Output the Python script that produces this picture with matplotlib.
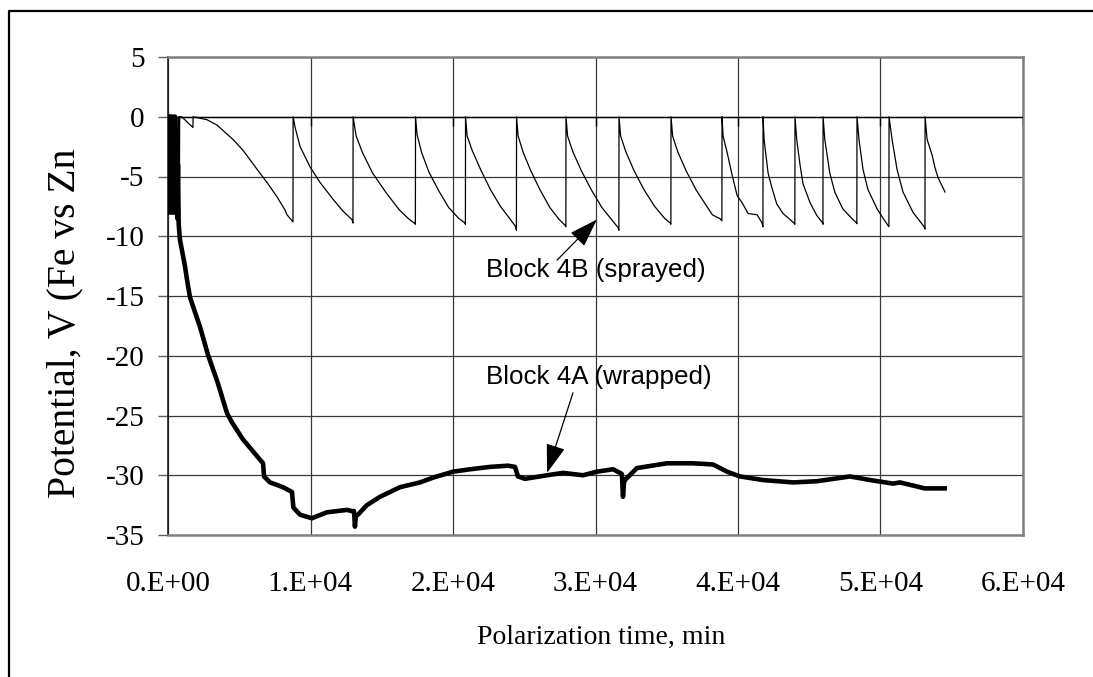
import matplotlib.pyplot as plt
from matplotlib.lines import Line2D

# Block 4A (wrapped) - polarization time (min) and potential (V)
t_4a = [0, 50, 100, 150, 200, 250, 300, 350, 400, 450, 500, 550, 600, 650, 700,
        750, 840, 1190, 1330, 1540, 2250, 2800, 3500, 4140, 4500, 5260, 6670, 6740,
        7160, 8070, 8700, 8800, 9260, 10100, 11150, 12560, 12900, 13050, 13120, 13180,
        13330, 13960, 14880, 16280, 17680, 18600, 20000, 21200, 22600, 23860, 24350,
        24560, 25050, 26600, 27720, 29120, 30100, 31230, 31720, 31850, 31930, 32000,
        32070, 32900, 35020, 36840, 38250, 39230, 40140, 41750, 43860, 45540, 47860,
        49260, 50880, 51370, 52420, 53100, 54500]
v_4a = [0, -8, 0, -8, 0, -8, 0, -8, 0, -8, 0, -8, -1, -8.5, -4,
        -9.0, -10.3, -12.5, -13.6, -15.1, -17.6, -19.9, -22.3, -24.8, -25.6, -27.0, -29.0, -30.1,
        -30.6, -31.0, -31.4, -32.7, -33.3, -33.6, -33.1, -32.9, -33.0, -33.0, -34.3, -33.4,
        -33.3, -32.5, -31.8, -31.0, -30.6, -30.2, -29.7, -29.5, -29.3, -29.2, -29.3,
        -30.1, -30.3, -30.0, -29.8, -30.0, -29.7, -29.5, -29.8, -29.9, -31.8, -30.6,
        -30.4, -29.4, -29.0, -29.0, -29.1, -29.7, -30.1, -30.4, -30.6, -30.5, -30.1,
        -30.4, -30.7, -30.6, -30.9, -31.1, -31.1]

# Block 4B (sprayed) - one row per charge/discharge cycle
t_4b = [0, 20, 40, 80, 120, 160, 200, 300, 400, 500, 600, 700, 770, 790, 820,
        960, 1750, 1760, 2740, 3440, 4560, 5260, 6250, 6950, 7650, 8210, 8350, 8770,
        8780, 8920, 9270, 9970, 10670, 11580, 12280, 12910, 12980,
        12990, 13200, 13650, 14350, 15330, 16240, 16940, 17300, 17360,
        17370, 17480, 17800, 18300, 19000, 19700, 20400, 20850, 20870,
        20880, 20990, 21340, 21930, 22630, 23330, 24030, 24400, 24450,
        24460, 24570, 24900, 25450, 26100, 26800, 27450, 27880, 27920,
        27930, 28040, 28400, 29000, 29700, 30450, 31200, 31600, 31640,
        31650, 31760, 32120, 32700, 33400, 34150, 34850, 35250, 35290,
        35300, 35410, 35760, 36350, 37050, 37700, 38200, 38500, 38700, 38870,
        38880, 38950, 39240, 39590, 39940, 40290, 40710, 41340, 41690, 41750,
        41760, 41830, 42110, 42370, 42720, 43160, 43650, 43930, 43990,
        44000, 44120, 44350, 44560, 45060, 45550, 45950, 45960,
        45970, 46090, 46440, 46790, 47350, 47980, 48330, 48340,
        48350, 48490, 48770, 49120, 49760, 50180, 50530, 50590,
        50600, 50810, 51160, 51580, 52280, 53060, 53120,
        53130, 53270, 53620, 53830, 54040, 54530]
v_4b = [0, -5.8, 0, -3.0, 0, -7.0, 0, -6.0, 0, -8.0, 0, -5.0, 0, -8.4, 0,
        0, -0.9, 0, -0.25, -0.7, -1.9, -2.8, -4.4, -5.5, -6.7, -7.8, -8.2, -8.8,
        0, -0.9, -2.5, -4.2, -5.5, -6.9, -7.9, -8.6, -8.9,
        0, -1.6, -3.0, -4.7, -6.4, -7.8, -8.6, -8.9, -9.0,
        0, -1.5, -3.0, -4.6, -6.2, -7.6, -8.5, -8.9, -9.0,
        0, -1.6, -2.8, -4.4, -6.1, -7.5, -8.6, -9.2, -9.5,
        0, -1.6, -2.9, -4.5, -6.1, -7.6, -8.6, -9.1, -9.2,
        0, -1.6, -2.9, -4.5, -6.1, -7.6, -8.7, -9.3, -9.5,
        0, -1.6, -2.9, -4.5, -6.1, -7.5, -8.5, -8.9, -9.0,
        0, -1.6, -2.9, -4.5, -6.1, -7.3, -8.2, -8.4, -8.5, -8.7,
        0, -1.6, -3.0, -4.9, -6.6, -7.2, -8.1, -8.2, -8.9, -9.2,
        0, -1.9, -4.7, -5.9, -7.3, -8.1, -8.6, -8.9, -9.0,
        0, -1.9, -4.0, -5.6, -7.2, -8.3, -8.9, -9.0,
        0, -1.9, -4.7, -6.3, -7.7, -8.5, -8.9, -8.95,
        0, -1.9, -4.4, -6.1, -7.7, -8.5, -9.1, -9.2,
        0, -1.9, -4.4, -6.3, -8.0, -9.2, -9.4,
        0, -1.9, -3.2, -4.3, -5.1, -6.3]

x_ticks = [0, 1e4, 2e4, 3e4, 4e4, 5e4, 6e4]
x_labels = ["0.E+00", "1.E+04", "2.E+04", "3.E+04", "4.E+04", "5.E+04", "6.E+04"]
y_ticks = [5, 0, -5, -10, -15, -20, -25, -30, -35]
y_labels = ["5", "0", "-5", "-10", "-15", "-20", "-25", "-30", "-35"]

W, H = 1093, 677
serif = "Liberation Serif"
sans = "Liberation Sans"

fig = plt.figure(figsize=(W / 100, H / 100), dpi=100)
ax = fig.add_axes([168 / W, 1 - 535 / H, (1023 - 168) / W, (535 - 57) / H])

ax.plot(t_4b, v_4b, color="black", lw=0.9, zorder=4)
ax.plot(t_4a, v_4a, color="black", lw=3.3, zorder=5)

ax.set_xlim(0, 6e4)
ax.set_ylim(-35, 5)
ax.set_xticks(x_ticks)
ax.set_xticklabels(x_labels, fontsize=21, family=serif)
ax.set_yticks(y_ticks)
ax.set_yticklabels(y_labels, fontsize=21, family=serif)
ax.grid(True, color="#383838", lw=0.9, zorder=1)
ax.set_axisbelow(True)
ax.tick_params(axis="x", length=0, pad=26)
ax.tick_params(axis="y", length=7, width=1, color="#606060", direction="out", pad=10)

for s in ax.spines.values():
    s.set_color("#808080")
    s.set_linewidth(1.8)
ax.spines["left"].set_color("#202020")
ax.spines["left"].set_linewidth(1.2)

# x axis crosses at y = 0, with its tick marks hanging below
ax.axhline(0, color="black", lw=1, zorder=3)
ax.vlines(x_ticks, -0.8, 0, color="black", lw=1, zorder=3)

# annotations
arrow = dict(arrowstyle="-|>,head_length=0.9,head_width=0.3", color="black",
             lw=0.9, shrinkA=0, shrinkB=0, mutation_scale=20)
ax.text(22320, -12.85, "Block 4B (sprayed)", family=sans, fontsize=18.7, va="center", ha="left")
ax.annotate("", xy=(30100, -8.6), xytext=(27300, -12.0), arrowprops=arrow)
ax.text(22320, -21.8, "Block 4A (wrapped)", family=sans, fontsize=18.7, va="center", ha="left")
ax.annotate("", xy=(26600, -29.8), xytext=(28420, -23.1), arrowprops=arrow)

fig.text(65 / W, 1 - 498 / H, "Potential, V (Fe vs Zn", rotation=90, ha="center",
         va="bottom", fontsize=28.5, family=serif)
fig.text(601 / W, 1 - 637 / H, "Polarization time, min", ha="center", va="center",
         fontsize=20, family=serif)

# outer chart border: only top and left edges fall inside the picture
fig.add_artist(Line2D([9 / W, 9 / W, 1.05], [-0.05, 1 - 11 / H, 1 - 11 / H],
                      transform=fig.transFigure, color="black", lw=1.6))

fig.savefig("out.png", dpi=100)
